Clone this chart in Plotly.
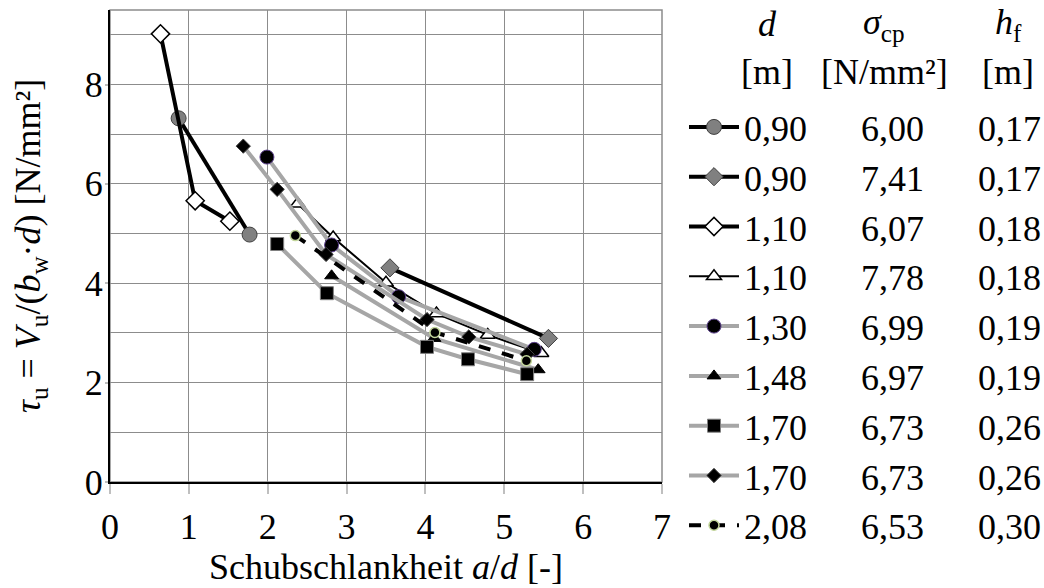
import plotly.graph_objects as go

# ---------------- data ----------------
d_labels = ["0,90", "0,90", "1,10", "1,10", "1,30", "1,48", "1,70", "1,70", "2,08"]
scp_labels = ["6,00", "7,41", "6,07", "7,78", "6,99", "6,97", "6,73", "6,73", "6,53"]
hf_labels = ["0,17", "0,17", "0,18", "0,18", "0,19", "0,19", "0,26", "0,26", "0,30"]

x_s1 = [0.87, 1.77]
y_s1 = [7.32, 4.98]
x_s2 = [3.55, 5.56]
y_s2 = [4.31, 2.89]
x_s3 = [0.64, 1.08, 1.52]
y_s3 = [9.02, 5.66, 5.25]
x_s4 = [2.38, 2.83, 3.50, 4.14, 4.79, 5.47]
y_s4 = [5.60, 4.92, 4.01, 3.39, 2.96, 2.59]
x_s5 = [1.99, 2.81, 3.66, 5.38]
y_s5 = [6.54, 4.77, 3.73, 2.67]
x_s6 = [2.81, 4.11, 5.43]
y_s6 = [4.15, 2.89, 2.26]
x_s7 = [2.12, 2.75, 4.02, 4.54, 5.29]
y_s7 = [4.79, 3.80, 2.72, 2.47, 2.17]
x_s8 = [1.69, 2.12, 2.74, 4.02, 4.55, 5.29]
y_s8 = [6.76, 5.89, 4.58, 3.27, 2.92, 2.57]
x_s9 = [2.35, 4.12, 5.28]
y_s9 = [4.96, 3.01, 2.44]

x_ticks = [0, 1, 2, 3, 4, 5, 6, 7]
y_ticks = [0, 2, 4, 6, 8]

xs = [x_s1, x_s2, x_s3, x_s4, x_s5, x_s6, x_s7, x_s8, x_s9]
ys = [y_s1, y_s2, y_s3, y_s4, y_s5, y_s6, y_s7, y_s8, y_s9]

# ---------------- styles ----------------
FONT = "Liberation Serif"
FS = 36
BLACK = "#000000"
GRAY_LINE = "#a6a6a6"

styles = [
    dict(lc=BLACK, lw=4, dash="solid", sym="circle", ms=15, mc="#808080", olc="#404040", olw=1),
    dict(lc=BLACK, lw=4, dash="solid", sym="diamond", ms=14, mc="#808080", olc="#404040", olw=1),
    dict(lc=BLACK, lw=4, dash="solid", sym="diamond", ms=14, mc="#ffffff", olc="#000000", olw=1.5),
    dict(lc=BLACK, lw=2, dash="solid", sym="triangle-up", ms=13, mc="#ffffff", olc="#000000", olw=1.5),
    dict(lc=GRAY_LINE, lw=4, dash="solid", sym="circle", ms=14, mc="#000000", olc="#5b3f8c", olw=1),
    dict(lc=GRAY_LINE, lw=4, dash="solid", sym="triangle-up", ms=12, mc="#000000", olc="#000000", olw=1),
    dict(lc=GRAY_LINE, lw=4, dash="solid", sym="square", ms=13, mc="#000000", olc="#7f7f7f", olw=1),
    dict(lc=GRAY_LINE, lw=4, dash="solid", sym="diamond", ms=11, mc="#000000", olc="#404040", olw=1),
    dict(lc=BLACK, lw=4, dash="dash", sym="circle", ms=10, mc="#000000", olc="#c3d69b", olw=1.5),
]

SP = "\u00a0" * 6

fig = go.Figure()
for i in range(len(xs)):
    st = styles[i]
    name = d_labels[i] + SP + scp_labels[i] + SP + hf_labels[i]
    fig.add_trace(go.Scatter(
        x=xs[i], y=ys[i], mode="lines+markers", name=name,
        legendgroup="g%d" % i,
        line=dict(color=st["lc"], width=st["lw"], dash=st["dash"]),
        marker=dict(symbol=st["sym"], size=st["ms"], color=st["mc"],
                    line=dict(color=st["olc"], width=st["olw"])),
    ))

# plot frame (top/right border)
fig.add_shape(type="rect", xref="paper", yref="paper", x0=0, y0=0, x1=1, y1=1,
              line=dict(color="#8c8c8c", width=1.5), layer="between")

W = 1044.0
H = 588.0
PL, PR, PT, PB = 110, 662, 10, 482


def ax(px):
    return (px - PL) / (PR - PL)


def ay(py):
    return (PB - py) / (PB - PT)


txt = dict(xref="paper", yref="paper", showarrow=False, xanchor="center", yanchor="middle",
           font=dict(family=FONT, size=FS, color="black"))
# legend column headers
fig.add_annotation(text="<i>d</i>", x=ax(767), y=ay(24), **txt)
fig.add_annotation(text="[m]", x=ax(767), y=ay(72), **txt)
fig.add_annotation(text="<i>σ</i><sub>cp</sub>", x=ax(884), y=ay(24), **txt)
fig.add_annotation(text="[N/mm²]", x=ax(884), y=ay(72), **txt)
fig.add_annotation(text="<i>h</i><sub>f</sub>", x=ax(1008), y=ay(24), **txt)
fig.add_annotation(text="[m]", x=ax(1008), y=ay(72), **txt)
# axis titles
fig.add_annotation(text="Schubschlankheit <i>a</i>/<i>d</i> [-]", x=0.5, y=ay(567), **txt)
fig.add_annotation(
    text="<i>τ</i><sub>u</sub> = <i>V</i><sub>u</sub>/(<i>b</i><sub>w</sub>·<i>d</i>) [N/mm²]",
    x=ax(30), y=ay(246), textangle=-90, **txt)

fig.update_layout(
    width=1044, height=588,
    margin=dict(l=PL, r=int(W) - PR, t=PT, b=int(H) - PB),
    paper_bgcolor="white", plot_bgcolor="white",
    font=dict(family=FONT, size=FS, color="black"),
    showlegend=True,
    legend=dict(
        xref="container", yref="container",
        x=684 / W, y=1 - 97 / H, xanchor="left", yanchor="top",
        font=dict(family=FONT, size=FS, color="black"),
        traceorder="grouped", tracegroupgap=0,
        itemwidth=50, bgcolor="rgba(0,0,0,0)", borderwidth=0,
        maxheight=600,
    ),
    xaxis=dict(
        range=[0, 7], tickvals=x_ticks, ticktext=[str(v) for v in x_ticks],
        showgrid=True, gridcolor="#8c8c8c", gridwidth=1,
        showline=True, linecolor="black", linewidth=2,
        ticks="outside", ticklen=10, tickcolor="#bfbfbf", tickwidth=2,
        ticklabelstandoff=2,
        zeroline=False,
    ),
    yaxis=dict(
        range=[0, 9.5], tickvals=y_ticks, ticktext=[str(v) for v in y_ticks],
        showgrid=True, gridcolor="#8c8c8c", gridwidth=1,
        minor=dict(dtick=1, tick0=0, showgrid=True, gridcolor="#8c8c8c", gridwidth=1, ticks=""),
        showline=True, linecolor="black", linewidth=2,
        ticks="outside", ticklen=3, tickcolor="#bfbfbf", tickwidth=2,
        ticklabelstandoff=-5,
        zeroline=False,
    ),
)

fig.write_html("out.html")
